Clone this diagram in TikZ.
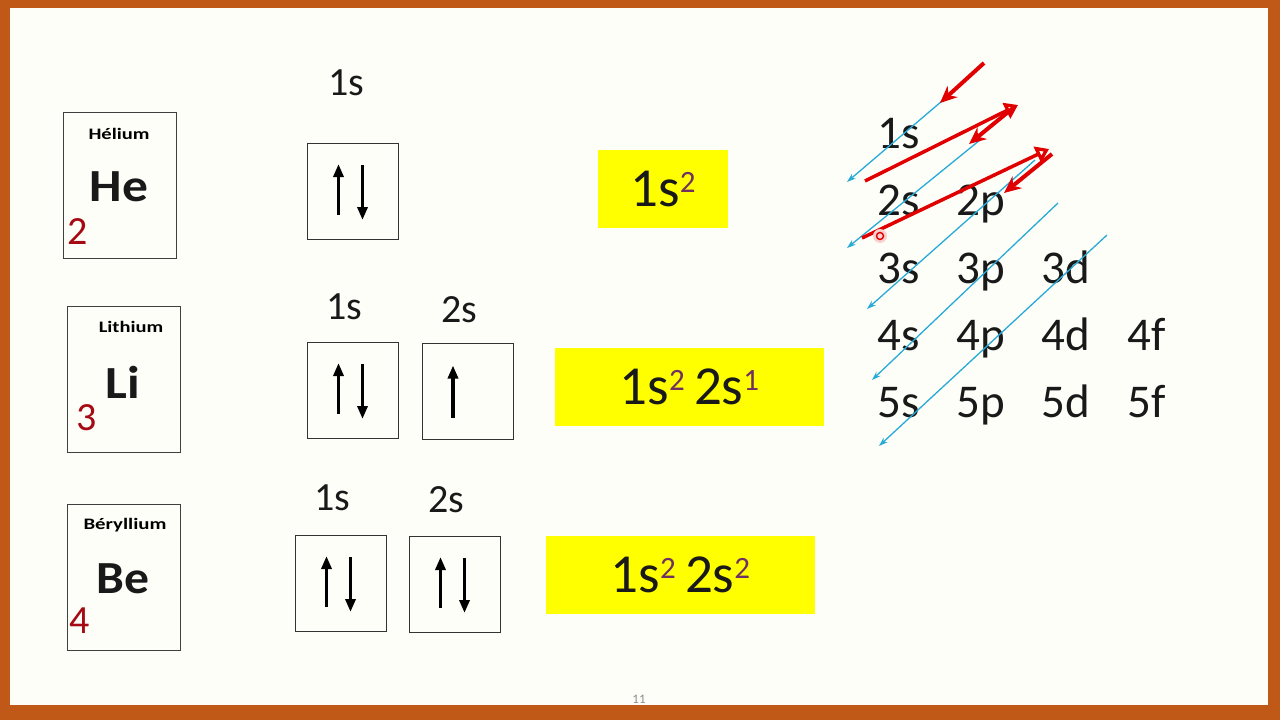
\documentclass[tikz,border=0pt]{standalone}
\usepackage{fontspec}
\setmainfont{Carlito}
\usetikzlibrary{arrows.meta,calc}
\definecolor{frame}{RGB}{192,88,24}
\definecolor{paper}{RGB}{254,254,249}
\definecolor{numred}{RGB}{165,10,20}
\definecolor{suppurple}{RGB}{112,48,96}
\definecolor{hl}{RGB}{255,255,0}
\definecolor{cy}{RGB}{40,170,215}
\definecolor{rd}{RGB}{225,0,0}
\newcommand{\fs}[1]{\fontsize{#1}{#1}\selectfont}
\newcommand{\sups}[1]{\raisebox{14pt}{\fs{31}\color{suppurple}#1}}
\begin{document}
\begin{tikzpicture}[x=1pt,y=-1pt,
  elbox/.style={draw=black!75,line width=0.9pt,minimum width=113pt,minimum height=146pt,inner sep=0pt},
  elname/.style={inner sep=0pt,font=\fs{16}\bfseries},
  elsym/.style={inner sep=0pt,font=\fs{46}\bfseries,text=black!90},
  elnum/.style={inner sep=0pt,font=\fs{40},text=numred},
  orb/.style={draw=black!80,line width=0.9pt,minimum width=91pt,minimum height=96pt,inner sep=0pt},
  orblab/.style={inner sep=0pt,font=\fs{40},text=black!90},
  spin/.style={line width=3.5pt,-{Triangle[length=13pt,width=10pt]}},
  cfg/.style={fill=hl,minimum height=78pt,inner sep=0pt,font=\fs{55},text=black!90},
  grid/.style={inner sep=0pt,anchor=base,font=\fs{47},text=black!90},
  bl/.style={cy,line width=1.3pt,-{Stealth[length=9pt,width=6pt]}},
  rdf/.style={rd,line width=4pt,-{Stealth[length=17pt,width=15pt]}},
  rdo/.style={rd,line width=3.5pt,-{Triangle[open,length=13pt,width=17pt]}}
]
\useasboundingbox (0,0) rectangle (1280,720);
\fill[frame] (0,0) rectangle (1280,720);
\fill[paper] (10,8) rectangle (1268,705);

% element cards
\node[elbox] (heb) at (119.5,185) {};
\node[elname] (hen) at (119,134) {\scalebox{1.28}[1]{Hélium}};
\node[elsym] (hes) at (119,187) {\scalebox{1.12}[1]{He}};
\node[elnum] (hez) at (78,232) {2};

\node[elbox] (lib) at (123.5,379.5) {};
\node[elname] (lin) at (131,327) {\scalebox{1.28}[1]{Lithium}};
\node[elsym] (lis) at (123,382) {\scalebox{1.12}[1]{Li}};
\node[elnum] (liz) at (87,418) {3};

\node[elbox] (beb) at (123.5,577) {};
\node[elname] (ben) at (125,525) {\scalebox{1.3}[1]{Béryllium}};
\node[elsym] (bes) at (123,579) {\scalebox{1.08}[1]{Be}};
\node[elnum] (bez) at (80,621) {4};

% orbital boxes
\node[orblab] (l1) at (346,83) {1s};
\node[orb] (o1) at (352.5,191) {};
\node[orblab] (l2) at (344,307) {1s};
\node[orb] (o2) at (352.5,390) {};
\node[orblab] (l3) at (459,310) {2s};
\node[orb] (o3) at (467.5,391.5) {};
\node[orblab] (l4) at (332,498) {1s};
\node[orb] (o4) at (340.5,583) {};
\node[orblab] (l5) at (446,500) {2s};
\node[orb] (o5) at (454.5,584) {};

\foreach \b in {o1,o2,o4,o5}{
  \draw[spin] ($(\b.center)+(-14,24)$) -- ($(\b.center)+(-14,-27)$);
  \draw[spin] ($(\b.center)+(10,-26)$) -- ($(\b.center)+(10,29)$);
}
\draw[spin] ($(o3.center)+(-14.5,26)$) -- ($(o3.center)+(-14.5,-26)$);

% configurations
\node[cfg,minimum width=130pt] (c1) at (663,189) {1s\sups{2}};
\node[cfg,minimum width=269pt] (c2) at (689.5,387) {1s\sups{2}\,2s\sups{1}};
\node[cfg,minimum width=269pt] (c3) at (680.5,575) {1s\sups{2}\,2s\sups{2}};

% grid
\node[grid] (g1s) at (899,148) {1s};
\node[grid] (g2s) at (899,215) {2s};
\node[grid] (g2p) at (981,215) {2p};
\node[grid] (g3s) at (899,283) {3s};
\node[grid] (g3p) at (981,283) {3p};
\node[grid] (g3d) at (1066,283) {3d};
\node[grid] (g4s) at (899,350) {4s};
\node[grid] (g4p) at (981,350) {4p};
\node[grid] (g4d) at (1066,350) {4d};
\node[grid] (g4f) at (1147,350) {4f};
\node[grid] (g5s) at (899,417) {5s};
\node[grid] (g5p) at (981,417) {5p};
\node[grid] (g5d) at (1066,417) {5d};
\node[grid] (g5f) at (1147,417) {5f};

% blue diagonals
\coordinate (b1a) at (942,101); \coordinate (b1b) at (847,182);
\coordinate (b2a) at (980,140); \coordinate (b2b) at (847,248);
\coordinate (b3a) at (1035,160); \coordinate (b3b) at (867,309);
\coordinate (b4a) at (1058,203); \coordinate (b4b) at (872,380);
\coordinate (b5a) at (1107,235); \coordinate (b5b) at (879,446);
\draw[bl] (b1a) -- (b1b);
\draw[bl] (b2a) -- (b2b);
\draw[bl] (b3a) -- (b3b);
\draw[bl] (b4a) -- (b4b);
\draw[bl] (b5a) -- (b5b);

% red arrows
\coordinate (r1a) at (984,63); \coordinate (r1b) at (940,103);
\coordinate (r2a) at (865,181); \coordinate (r2b) at (1018,105);
\coordinate (r3a) at (1013,108); \coordinate (r3b) at (969,144);
\coordinate (r4a) at (862,238); \coordinate (r4b) at (1049,149);
\coordinate (r5a) at (1052,154); \coordinate (r5b) at (1004,193);
\draw[rdf] (r1a) -- (r1b);
\draw[rdo] (r2a) -- (r2b);
\draw[rdf] (r3a) -- (r3b);
\draw[rdo] (r4a) -- (r4b);
\draw[rdf] (r5a) -- (r5b);

% pointer
\fill[rd!18] (880,236) circle (7);
\draw[rd,line width=1.4pt] (880,236) circle (3.5);

% page number
\node[inner sep=0pt,font=\fs{13},text=black!45] (pg) at (639,699) {11};
\end{tikzpicture}
\end{document}
